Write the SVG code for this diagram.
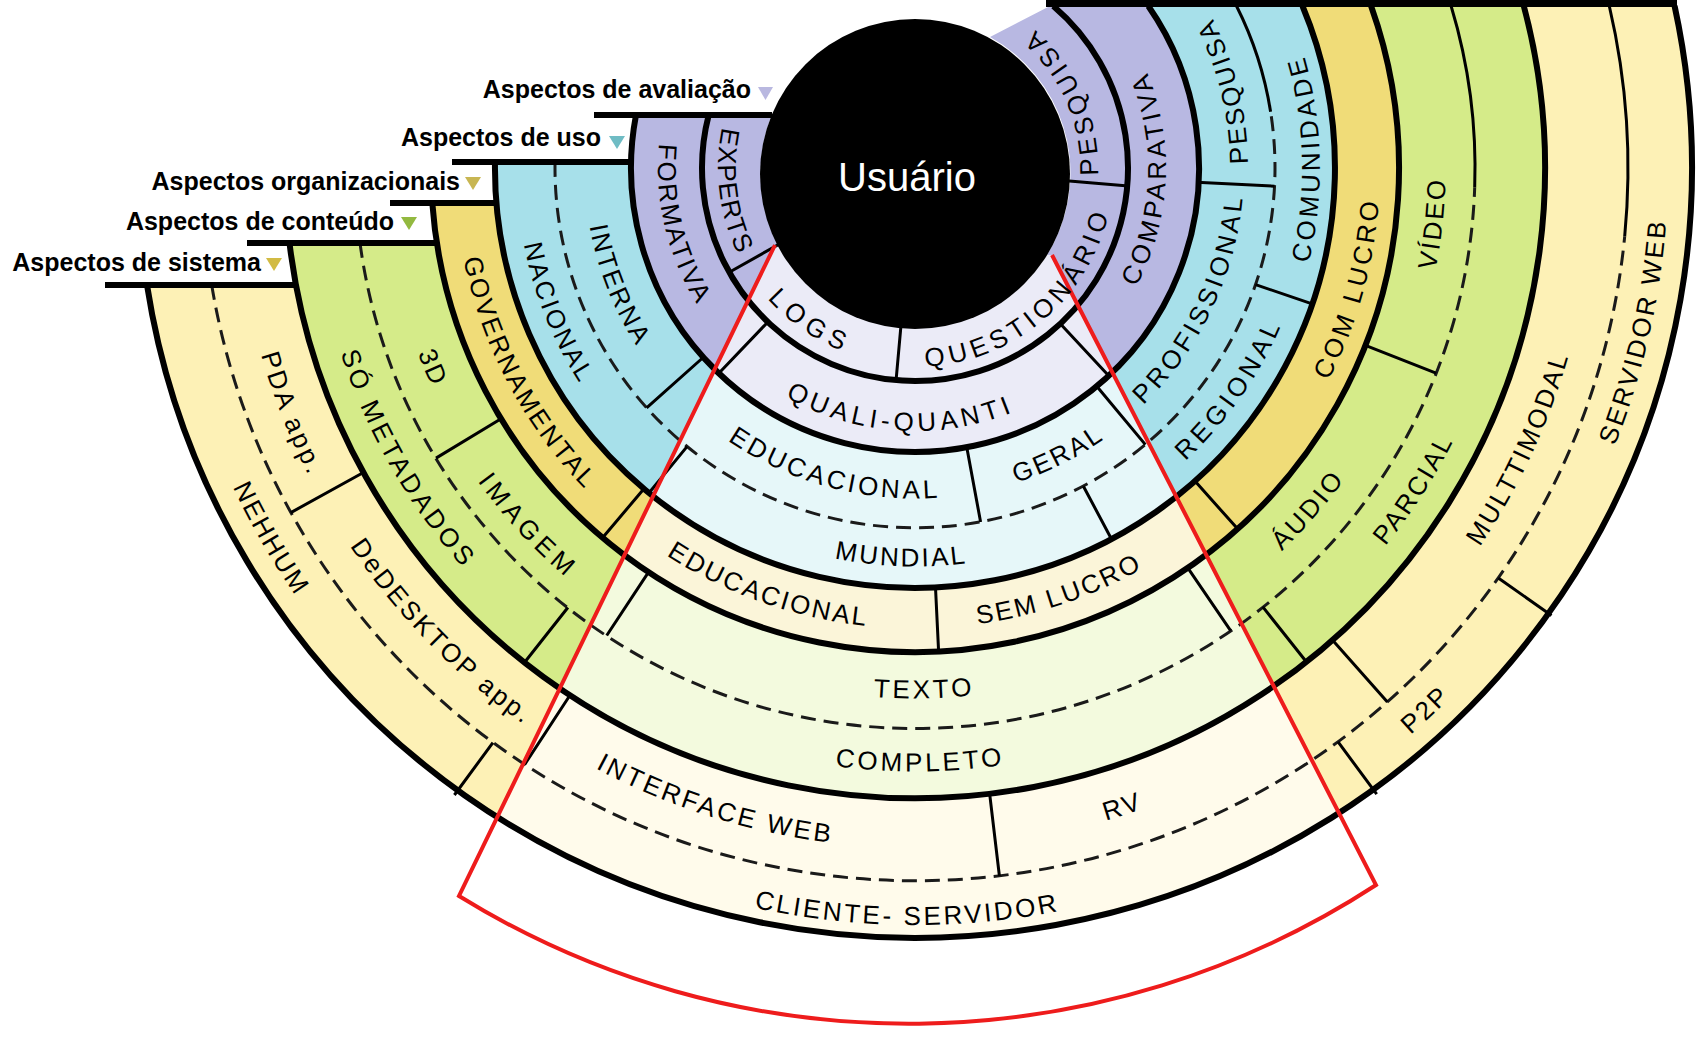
<svg xmlns="http://www.w3.org/2000/svg" width="1706" height="1038" viewBox="0 0 1706 1038">
<style>
.fa{fill:#b8b8e2}.fb{fill:#a7e0ea}.fc{fill:#f0dc78}.fd{fill:#d5eb89}.fe{fill:#fdf1b6}
.ring{fill:none;stroke:#000;stroke-width:6}
.dash{fill:none;stroke:#1a1a1a;stroke-width:3;stroke-dasharray:15 8}
.thin{fill:none;stroke:#000;stroke-width:3}
.lbl{font-family:"Liberation Sans",Arial,sans-serif;font-size:26px;letter-spacing:2.5px;fill:#000;text-anchor:middle}
.leg{font-family:"Liberation Sans",Arial,sans-serif;font-size:25px;font-weight:bold;fill:#000;text-anchor:end}
.red{fill:none;stroke:#ee1c1c;stroke-width:4;stroke-linejoin:miter}
</style>
<defs>
<path id="r183" d="M -171.96 62.59 A 183 183 0 0 0 171.96 62.59"/>
<path id="r197" d="M -185.12 67.38 A 197 197 0 0 0 185.12 67.38"/>
<path id="r199" d="M -187 68.06 A 199 199 0 0 0 187 68.06"/>
<path id="r251" d="M -235.86 85.85 A 251 251 0 0 0 235.86 85.85"/>
<path id="r257" d="M -241.5 87.9 A 257 257 0 0 0 241.5 87.9"/>
<path id="r263" d="M -247.14 89.95 A 263 263 0 0 0 247.14 89.95"/>
<path id="r329" d="M -309.16 112.52 A 329 329 0 0 0 309.16 112.52"/>
<path id="r330" d="M -310.57 113.04 A 330.5 330.5 0 0 0 310.57 113.04"/>
<path id="r333" d="M -312.92 113.89 A 333 333 0 0 0 312.92 113.89"/>
<path id="r398" d="M -374.47 136.3 A 398.5 398.5 0 0 0 374.47 136.3"/>
<path id="r405" d="M -380.57 138.52 A 405 405 0 0 0 380.57 138.52"/>
<path id="r460" d="M -432.73 157.5 A 460.5 460.5 0 0 0 432.73 157.5"/>
<path id="r465" d="M -436.96 159.04 A 465 465 0 0 0 436.96 159.04"/>
<path id="r530" d="M -498.51 181.44 A 530.5 530.5 0 0 0 498.51 181.44"/>
<path id="r538" d="M -505.55 184.01 A 538 538 0 0 0 505.55 184.01"/>
<path id="r603" d="M -567.1 206.41 A 603.5 603.5 0 0 0 567.1 206.41"/>
<path id="r680" d="M -639 232.57 A 680 680 0 0 0 639 232.57"/>
<path id="r753" d="M -707.59 257.54 A 753 753 0 0 0 707.59 257.54"/>
<path id="r757" d="M -711.35 258.91 A 757 757 0 0 0 711.35 258.91"/>
</defs>
<rect width="1706" height="1038" fill="#fff"/>
<g id="fills">
<path id="layer-sistema" class="fe" d="M 147 285 A 777 770 0 1 0 1674.6 6 L 1523.8 6 A 630 630 0 1 1 296 285 Z"/>
<path id="layer-conteudo" class="fd" d="M 289.5 243 A 630 630 0 1 0 1523.8 6 L 1371.1 6 A 484 484 0 1 1 436.8 243 Z"/>
<path id="layer-organizacional" class="fc" d="M 432.3 203 A 484 484 0 1 0 1371.1 6 L 1302.5 6 A 420 420 0 1 1 496.5 203 Z"/>
<path id="layer-uso" class="fb" d="M 495 162 A 420 420 0 1 0 1302.5 6 L 1148.3 6 A 284 284 0 1 1 631.1 162 Z"/>
<path id="layer-avaliacao" class="fa" d="M 636 115 A 284 284 0 1 0 1148.3 6 L 1050 6 L 990 37 A 155 155 0 1 1 771.7 115 Z"/>
</g>
<path id="sector-highlight" d="M 775 245 L 459 896 A 856 856 0 0 0 1376 885 L 1052 255 Z" fill="#fff" fill-opacity="0.72"/>
<g id="connectors">
<g id="rings">
<path class="ring" d="M 708.7 115 A 213 213 0 1 0 1053.3 6"/>
<path class="ring" d="M 636 115 A 284 284 0 1 0 1148.3 6"/>
<path class="ring" d="M 495 162 A 420 420 0 1 0 1302.5 6"/>
<path class="ring" d="M 432.3 203 A 484 484 0 1 0 1371.1 6"/>
<path class="ring" d="M 289.5 243 A 630 630 0 1 0 1523.8 6"/>
<path class="ring" d="M 147 285 A 777 770 0 1 0 1674.6 6"/>
<path class="dash" d="M 555.05 162 A 360 360 0 1 0 1270.6 111.7"/>
<path class="thin" d="M 1270.6 111.7 A 360 360 0 0 0 1236.5 6"/>
<path class="dash" d="M 360 243 A 560 560 0 0 0 1474.7 187.5"/>
<path class="thin" d="M 1474.7 187.5 A 560 560 0 0 0 1451.1 6"/>
<path class="dash" d="M 211.7 285 A 713 713 0 0 0 1624.7 236.3"/>
<path class="thin" d="M 1624.7 236.3 A 713 713 0 0 0 1609.3 6"/>
</g>
<path id="dividers" class="thin" d="M 792.9 236.5 L 728.4 272.7 M 902.6 307.4 L 896 381.1 M 1054.5 179.7 L 1128.3 185.9 M 769.2 320.6 L 717.4 374.8 M 1058.9 322.3 L 1110.1 377.2 M 704.8 356 L 646.6 407.9 M 966.4 445.3 L 980.6 522 M 1095.5 384.7 L 1145.4 444.6 M 1196.6 182.3 L 1274.5 186.2 M 687 446.6 L 647.7 494.5 M 1083.4 486.2 L 1112.5 541 M 1255.6 284.6 L 1314.3 304.7 M 645.2 487.3 L 601.3 539.2 M 935.4 585.5 L 938.7 653.4 M 1193.6 479.6 L 1238.9 530.3 M 502.7 417.7 L 436 458.1 M 649.7 570.4 L 606.7 635.5 M 1186.6 566.2 L 1230.6 630.6 M 1363.5 344.7 L 1436 373.2 M 567.9 607.5 L 523.3 664 M 1262.8 606.9 L 1307.5 663.3 M 365.2 471.5 L 290.8 512.6 M 571.1 693.5 L 524.6 764.6 M 989.4 791.6 L 999.4 876 M 1331.1 638.4 L 1387.4 702 M 492.9 742.6 L 454.4 795 M 1338.1 741.9 L 1376.7 794.2 M 1498.3 578 L 1551.5 615.4"/>
<path id="legend-lines" class="ring" d="M 594 115 H 772 M 452 162 H 632 M 390 203 H 497 M 247 243 H 437 M 105 285 H 296"/>
<path id="top-line" d="M 1046 3.5 H 1677" stroke="#000" stroke-width="7"/>
</g>
<g id="usuario">
<circle cx="915" cy="174" r="155" fill="#000"/>
<text x="907" y="191" font-family="'Liberation Sans',Arial,sans-serif" font-size="40" fill="#fff" text-anchor="middle">Usuário</text>
</g>
<path id="sector-outline" class="red" d="M 775 245 L 459 896 A 856 856 0 0 0 1376 885 L 1052 255"/>
<g id="labels-avaliacao">
<text id="n-experts" class="lbl" style="letter-spacing:1.5px" transform="translate(915 168) rotate(82.8)"><textPath href="#r197" startOffset="50%">EXPERTS</textPath></text>
<text id="n-formativa" class="lbl" transform="translate(915 168) rotate(76.5)"><textPath href="#r257" startOffset="50%">FORMATIVA</textPath></text>
<text id="n-pesquisa-a" class="lbl" style="letter-spacing:4.4px" transform="translate(915 168) rotate(-114)"><textPath href="#r183" startOffset="50%">PESQUISA</textPath></text>
<text id="n-questionario" class="lbl" style="letter-spacing:5px" transform="translate(915 168) rotate(-40.4)"><textPath href="#r199" startOffset="50%">QUESTIONÁRIO</textPath></text>
<text id="n-logs" class="lbl" style="letter-spacing:6.5px" transform="translate(915 168) rotate(34.2)"><textPath href="#r197" startOffset="50%">LOGS</textPath></text>
<text id="n-qualiquanti" class="lbl" style="letter-spacing:4.5px" transform="translate(915 168) rotate(3.5)"><textPath href="#r263" startOffset="50%">QUALI-QUANTI</textPath></text>
<text id="n-comparativa" class="lbl" style="letter-spacing:3.8px" transform="translate(915 168) rotate(-87.4)"><textPath href="#r251" startOffset="50%">COMPARATIVA</textPath></text>
</g>
<g id="labels-uso">
<text id="n-interna" class="lbl" transform="translate(915 168) rotate(68.5)"><textPath href="#r330" startOffset="50%">INTERNA</textPath></text>
<text id="n-nacional" class="lbl" transform="translate(915 168) rotate(68)"><textPath href="#r398" startOffset="50%">NACIONAL</textPath></text>
<text id="n-educacional-b" class="lbl" style="letter-spacing:3.4px" transform="translate(915 168) rotate(15)"><textPath href="#r330" startOffset="50%">EDUCACIONAL</textPath></text>
<text id="n-geral" class="lbl" transform="translate(915 168) rotate(-26.5)"><textPath href="#r330" startOffset="50%">GERAL</textPath></text>
<text id="n-mundial" class="lbl" transform="translate(915 168) rotate(2)"><textPath href="#r398" startOffset="50%">MUNDIAL</textPath></text>
<text id="n-profissional" class="lbl" style="letter-spacing:3.8px" transform="translate(915 168) rotate(-64.6)"><textPath href="#r329" startOffset="50%">PROFISSIONAL</textPath></text>
<text id="n-pesquisa-b" class="lbl" transform="translate(915 168) rotate(-103.9)"><textPath href="#r333" startOffset="50%">PESQUISA</textPath></text>
<text id="n-comunidade" class="lbl" style="letter-spacing:3.5px" transform="translate(915 168) rotate(-91.4)"><textPath href="#r405" startOffset="50%">COMUNIDADE</textPath></text>
<text id="n-regional" class="lbl" style="letter-spacing:4.5px" transform="translate(915 168) rotate(-54.9)"><textPath href="#r398" startOffset="50%">REGIONAL</textPath></text>
</g>
<g id="labels-organizacional">
<text id="n-governamental" class="lbl" transform="translate(915 168) rotate(62.1)"><textPath href="#r460" startOffset="50%">GOVERNAMENTAL</textPath></text>
<text id="n-educacional-c" class="lbl" transform="translate(915 168) rotate(19.3)"><textPath href="#r460" startOffset="50%">EDUCACIONAL</textPath></text>
<text id="n-semlucro" class="lbl" transform="translate(915 168) rotate(-18.8)"><textPath href="#r460" startOffset="50%">SEM LUCRO</textPath></text>
<text id="n-comlucro" class="lbl" style="letter-spacing:3.5px" transform="translate(915 168) rotate(-74.5)"><textPath href="#r465" startOffset="50%">COM LUCRO</textPath></text>
</g>
<g id="labels-conteudo">
<text id="n-3d" class="lbl" transform="translate(915 168) rotate(67.5)"><textPath href="#r530" startOffset="50%">3D</textPath></text>
<text id="n-sometadados" class="lbl" style="letter-spacing:3.7px" transform="translate(915 168) rotate(60.2)"><textPath href="#r603" startOffset="50%">SÓ METADADOS</textPath></text>
<text id="n-imagem" class="lbl" style="letter-spacing:4.9px" transform="translate(915 168) rotate(47.25)"><textPath href="#r538" startOffset="50%">IMAGEM</textPath></text>
<text id="n-texto" class="lbl" style="letter-spacing:3.2px" transform="translate(915 168) rotate(-1)"><textPath href="#r530" startOffset="50%">TEXTO</textPath></text>
<text id="n-completo" class="lbl" style="letter-spacing:3.2px" transform="translate(915 168) rotate(-0.5)"><textPath href="#r603" startOffset="50%">COMPLETO</textPath></text>
<text id="n-audio" class="lbl" style="letter-spacing:3px" transform="translate(915 168) rotate(-49)"><textPath href="#r530" startOffset="50%">ÁUDIO</textPath></text>
<text id="n-parcial" class="lbl" transform="translate(915 168) rotate(-57.2)"><textPath href="#r603" startOffset="50%">PARCIAL</textPath></text>
<text id="n-video" class="lbl" transform="translate(915 168) rotate(-83.9)"><textPath href="#r530" startOffset="50%">VÍDEO</textPath></text>
</g>
<g id="labels-sistema">
<text id="n-pda" class="lbl" style="letter-spacing:2.8px" transform="translate(915 168) rotate(68.5)"><textPath href="#r680" startOffset="50%">PDA app.</textPath></text>
<text id="n-nehhum" class="lbl" style="letter-spacing:2.2px" transform="translate(915 168) rotate(60.1)"><textPath href="#r753" startOffset="50%">NEHHUM</textPath></text>
<text id="n-desktop" class="lbl" style="letter-spacing:2.7px" transform="translate(915 168) rotate(45.6)"><textPath href="#r680" startOffset="50%">DeDESKTOP app.</textPath></text>
<text id="n-interfaceweb" class="lbl" style="letter-spacing:2.9px" transform="translate(915 168) rotate(17.5)"><textPath href="#r680" startOffset="50%">INTERFACE WEB</textPath></text>
<text id="n-rv" class="lbl" transform="translate(915 168) rotate(-18)"><textPath href="#r680" startOffset="50%">RV</textPath></text>
<text id="n-clienteservidor" class="lbl" style="letter-spacing:2.8px" transform="translate(915 168) rotate(0.6)"><textPath href="#r757" startOffset="50%">CLIENTE- SERVIDOR</textPath></text>
<text id="n-p2p" class="lbl" transform="translate(915 168) rotate(-43.3)"><textPath href="#r753" startOffset="50%">P2P</textPath></text>
<text id="n-multimodal" class="lbl" style="letter-spacing:2.6px" transform="translate(915 168) rotate(-65.1)"><textPath href="#r680" startOffset="50%">MULTTIMODAL</textPath></text>
<text id="n-servidorweb" class="lbl" style="letter-spacing:2.6px" transform="translate(915 168) rotate(-77.2)"><textPath href="#r753" startOffset="50%">SERVIDOR WEB</textPath></text>
</g>
<g id="legend">
<g id="leg-avaliacao"><text class="leg" x="751" y="98">Aspectos de avaliação</text><polygon points="758,87 773,87 765.5,100" fill="#b9b8e0"/></g>
<g id="leg-uso"><text class="leg" x="601" y="146">Aspectos de uso</text><polygon points="609,136 625,136 617,149" fill="#6fbcc4"/></g>
<g id="leg-organizacionais"><text class="leg" x="460" y="190">Aspectos organizacionais</text><polygon points="465,177 481,177 473,190" fill="#c8b652"/></g>
<g id="leg-conteudo"><text class="leg" x="394" y="230">Aspectos de conteúdo</text><polygon points="401,217 417,217 409,230" fill="#93b940"/></g>
<g id="leg-sistema"><text class="leg" x="261" y="271">Aspectos de sistema</text><polygon points="266,258 282,258 274,271" fill="#d2bb44"/></g>
</g>
</svg>
